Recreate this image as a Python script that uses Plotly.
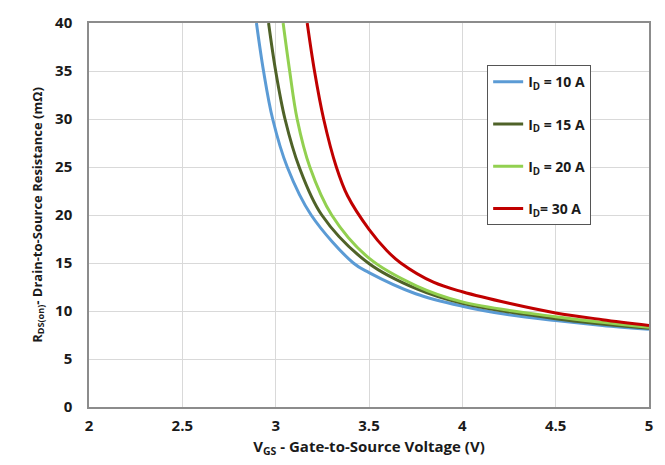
import plotly.graph_objects as go

# Data (V_GS in volts, R_DS(on) in mOhm)
v_10 = [2.897, 2.935, 2.984, 3.062, 3.190, 3.416, 3.500, 3.750, 4.0, 4.25, 4.5, 4.75, 5.0]
r_10 = [40, 35, 30, 25, 20, 15, 14.0, 11.8, 10.5, 9.6, 9.0, 8.5, 8.1]
v_15 = [2.962, 3.000, 3.050, 3.126, 3.247, 3.496, 3.756, 4.0, 4.5, 5.0]
r_15 = [40, 35, 30, 25, 20, 15, 12.3, 10.8, 9.2, 8.2]
v_20 = [3.040, 3.075, 3.115, 3.183, 3.300, 3.500, 3.756, 4.0, 4.5, 5.0]
r_20 = [40, 35, 30, 25, 20, 15.5, 12.6, 10.95, 9.4, 8.3]
v_30 = [3.169, 3.208, 3.257, 3.325, 3.385, 3.500, 3.595, 3.670, 3.845, 4.0, 4.25, 4.5, 4.75, 5.0]
r_30 = [40, 35, 30, 25, 22.0, 18.5, 16.3, 15, 13.0, 12.0, 10.8, 9.8, 9.1, 8.5]

series = [
    ("I<sub>D</sub> = 10 A", v_10, r_10, "#5B9BD5"),
    ("I<sub>D</sub> = 15 A", v_15, r_15, "#4F6228"),
    ("I<sub>D</sub> = 20 A", v_20, r_20, "#92D050"),
    ("I<sub>D</sub>= 30 A", v_30, r_30, "#C00000"),
]

x_ticks = [2, 2.5, 3, 3.5, 4, 4.5, 5]
x_tick_labels = ["2", "2.5", "3", "3.5", "4", "4.5", "5"]
y_ticks = [0, 5, 10, 15, 20, 25, 30, 35, 40]

fig = go.Figure()
for i, (name, xs, ys, col) in enumerate(series):
    fig.add_trace(go.Scatter(
        x=xs, y=ys, mode="lines", name=name, legendgroup=str(i),
        line=dict(color=col, width=3, shape="spline", smoothing=1.0),
    ))

font_family = "Open Sans, Arial, sans-serif"
fig.update_layout(
    width=665, height=465,
    margin=dict(l=89, r=16, t=18, b=57),
    paper_bgcolor="white", plot_bgcolor="white",
    font=dict(family=font_family, color="#1a1a1a"),
    showlegend=True,
    legend=dict(
        x=0.711, y=0.89, xanchor="left", yanchor="top",
        bgcolor="white", bordercolor="#555555", borderwidth=1,
        font=dict(size=14, family=font_family, weight="bold", color="#1a1a1a"),
        tracegroupgap=21, itemwidth=30,
    ),
    xaxis=dict(
        range=[2, 5], tickvals=x_ticks, ticktext=x_tick_labels,
        showgrid=True, gridcolor="#D9D9D9", gridwidth=1,
        showline=True, linecolor="#8C8C8C", linewidth=1.5, mirror=True,
        ticks="", zeroline=False, ticklabelstandoff=4,
        tickfont=dict(size=15, weight="bold", color="#1a1a1a"),
        title=dict(text="V<sub>GS</sub> - Gate-to-Source Voltage (V)",
                   font=dict(size=15, weight="bold", color="#1a1a1a"), standoff=8),
    ),
    yaxis=dict(
        range=[0, 40], tickvals=y_ticks,
        showgrid=True, gridcolor="#D9D9D9", gridwidth=1,
        showline=True, linecolor="#8C8C8C", linewidth=1.5, mirror=True,
        ticks="", zeroline=False, ticklabelstandoff=12,
        tickfont=dict(size=15, weight="bold", color="#1a1a1a"),
        title=dict(text="R<sub>DS(on)</sub>- Drain-to-Source Resistance (mΩ)",
                   font=dict(size=13, weight="bold", color="#1a1a1a"), standoff=10),
    ),
)

fig.write_html("out.html")
